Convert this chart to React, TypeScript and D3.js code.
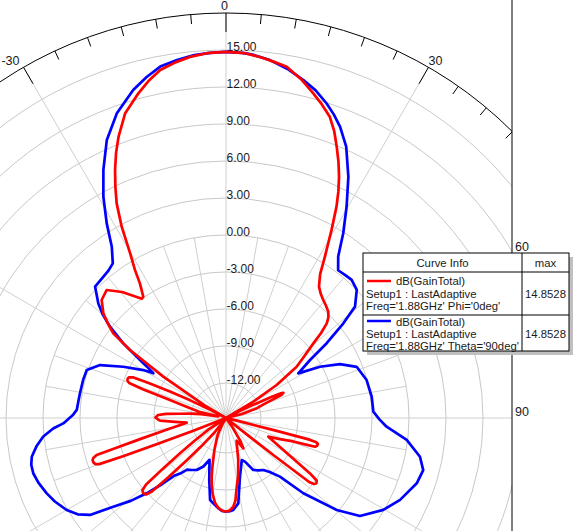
import React from 'react';
import * as d3 from 'd3';

const W = 578;
const H = 531;
const CX = 226;
const CY = 418;
const R = 405;
const BORDER_X = 512;
const DB_MIN = -14.84;
const DB_MAX = 18;

const ringValues = [-12, -9, -6, -3, 0, 3, 6, 9, 12, 15];
const angleLabels = [-30, 0, 30, 60, 90];

// Phi = 0deg cut (red)
const redAngles = [
  -180, -177.5, -175, -172.7, -170, -168, -166.3, -164.5, -163, -160, -156.5, -153.3, -149.5, -146,
  -141.3, -138.8, -137.1, -135.8, -134.8, -133.8, -132.3, -130.8, -129.8, -128.8, -127.5, -125.8, -123.3,
  -119, -114, -112, -111.3, -110.8, -110.4, -110.0, -109.4, -108.5, -107.5, -106.8, -106, -105.3, -103.8,
  -101.4, -96.8, -94.3, -92.3, -91.3, -89.6, -87.5, -86, -84.7, -83, -81, -78.5, -77, -74, -72.2, -70.9,
  -70.1, -69.3, -68.3, -67.3, -66.3, -65.6, -64.7, -63.8, -62.5, -61, -59.6, -56.6, -54.7, -53.1, -51.2,
  -49.5, -46.5, -43, -39.5, -35.2, -34.3, -33.4, -32.6, -31.6, -30.2, -28.6, -27, -25.5, -24.1, -22.5,
  -20.9, -18.3, -15.1, -12.8, -10.7, -8, -5.5, -3, 0, 3, 5.5, 7.7, 9.8, 12.5, 15.05, 17, 19, 20.7, 22.2,
  23.7, 25.1, 26.4, 27.6, 29.3, 31.5, 33.2, 35.3, 37.5, 39.5, 41.7, 43.9, 45.5, 46.8, 48.2, 49.5, 51.8,
  54, 56.9, 59.2, 60.8, 62.5, 64.4, 65.2, 65.7, 66.4, 67.3, 68.2, 70, 72.5, 76, 80, 100, 103.5, 104.2,
  104.5, 104.9, 105.8, 106.9, 107.9, 108.5, 109.2, 111.4, 113.8, 114.8, 118.3, 121.5, 123.4, 124.6, 125.8,
  126.9, 127.6, 128, 128.3, 129, 131, 142, 145.5, 148, 150.3, 152.5, 155, 158, 160.4, 163.7, 166, 168,
  171.1, 173.5, 175.3, 177.5, 180,
];
const redGain = [
  -7.24, -7.33, -7.55, -7.89, -8.6, -9.3, -9.94, -10.7, -11.3, -12.1, -12.9, -13.4, -14.3, -15.2,
  -13.2, -11.76, -10.14, -8.19, -6.41, -5.88, -5.77, -5.88, -6.41, -8.19, -10.14, -11.76, -13.2,
  -15.5, -16, -14.5, -12, -9, -6, -3.9, -3.6, -3.5, -3.5, -3.6, -3.93, -5.52, -7.66,
  -9.8, -11.63, -10.7, -9.49, -9.33, -9.12, -9.33, -9.97, -11.09, -11.92, -12.8, -14.2, -12.6, -11.4, -10.07, -7.7,
  -6.49, -6.3, -6.25, -6.3, -6.65, -7.95, -9.81, -11.6, -13.5, -16, -13.0, -8.75, -5.3, -3.41, -2.5,
  -1.76, -0.94, -0.65, -1.6, -3.0, -2.94, -2.4, -1.88, -0.76, 0.61, 2.83, 4.69, 6.0, 7.19, 8.45,
  9.58, 11.19, 12.43, 13.25, 13.88, 14.3, 14.6, 14.78, 14.85, 14.78, 14.55, 14.3, 14.07, 13.3, 12.42, 11.75, 11.0, 10.0, 8.92,
  7.85, 6.77, 5.65, 4.5, 2.65, 0.51, -0.9, -1.79, -2.2, -2.44, -2.65, -2.88, -3.2, -3.63, -4.5, -5.52, -6.8,
  -7.76, -9.94, -12.26, -15.5, -13.6, -12.1, -10.8, -10.0, -9.76, -9.95, -10.6, -11.6, -12.2, -13.5, -16, -16, -14, -11,
  -8, -7.3, -7.1, -7.12, -7.26, -8.09, -9.06, -10.14, -11.09, -10.91, -9.87, -8.28, -6.68, -5.91, -5.8,
  -5.92, -6.33, -9.97, -12.4, -14.5, -16, -16, -13.8, -12.6, -12.0, -12.5, -12.8, -12.5, -12.1, -11.3, -10.75, -10.1,
  -9.2, -8.1, -7.62, -7.35, -7.24,
];

// Theta = 90deg cut (blue)
const blueAngles = [
  -180, -177.5, -175, -169, -165, -161.5, -158.5, -155, -150.6, -146.6, -143, -140.5, -138.3, -136, -133.5, -131,
  -128.2, -125.5, -123, -120, -116, -112.8, -109, -106, -103.5, -101.3, -98.5, -95.8, -93.5, -91.9, -89,
  -86.9, -83, -80.4, -75, -71, -67.2, -63.5, -59.9, -58.4, -57, -56, -54, -51.8, -50, -48.1, -44.9, -41,
  -38.5, -36.2, -33.7, -31.5, -29, -26.3, -23.2, -19.7, -15.8, -13.1, -10.6, -7.8, -5, -2.5, 0, 2.5, 4, 7, 10, 12.9,
  15.3, 17.7, 19.5, 21.4, 23.9, 26.9, 29.7, 32.4, 34.8, 37.2, 40, 42.3, 45.6, 49.2, 51.1, 53.4, 55.4, 58.3, 61.4, 64.7,
  68.6, 74.9, 81.7, 87.5, 90.5, 93.1, 96.9, 101.3, 104.8, 108.9, 115.2, 120.3, 126.2, 129.7, 134.2, 137.4,
  141, 144.3, 148.2, 152.3, 156.5, 159.5, 163.4, 166.6, 171.8, 175.5, 177.5, 180,
];
const blueGain = [
  -7.24, -7.3, -7.5, -8.07, -9.6, -10.6, -11.2, -10.5, -10.0, -9.79, -9.6, -9.0, -8.6, -7.4, -5.97, -4.6,
  -3.21, -1.3, -0.5, 0.08, 0.6, 0.93, 1.25, 1.42, 1.4, 1.22, 0.7, 0.05, -0.8, -1.64, -2.4,
  -2.72, -2.8, -2.83, -2.85, -2.9, -3.76, -5.53, -7.09, -7.92, -7.2, -6.43, -4.54, -2.87, -1.8, -0.93, 0.2, 0.33,
  0.45, 0.7, 1.85, 3.67, 5.67, 7.6, 9.69, 11.41, 12.8, 13.55, 14.15, 14.45, 14.7, 14.8, 14.85, 14.8, 14.72, 14.4, 13.9, 13.27,
  12.7, 11.95, 11.3, 10.52, 9.22, 7.09, 4.9, 2.9, 1.1, 0.2, 0.25, 0.3, 0.0, -1.02, -2.61, -4.67, -6.56, -7.95, -6.16, -4.62,
  -3.46, -3.03, -2.9, -2.88, -2.4, -1.8, -0.08, 1.2, 1.7, 1.51, 0.76, -0.07, -1.38, -3.17, -6.09, -8.38,
  -9.2, -9.65, -9.85, -10.08, -10.98, -11.2, -10.6, -9.95, -7.85, -7.36, -7.28, -7.24,
];

const legendHeader = ['Curve Info', 'max'];
const legendNames = ['dB(GainTotal)', 'dB(GainTotal)'];
const legendSetups = ['Setup1 : LastAdaptive', 'Setup1 : LastAdaptive'];
const legendFreqs = ["Freq='1.88GHz' Phi='0deg'", "Freq='1.88GHz' Theta='90deg'"];
const legendMax = ['14.8528', '14.8528'];
const seriesColors = ['#ff0000', '#0000ff'];

const FONT = "'Liberation Sans', Arial, sans-serif";

const rScale = d3.scaleLinear().domain([DB_MIN, DB_MAX]).range([0, R]).clamp(true);

function polar(r: number, deg: number): [number, number] {
  const a = (deg * Math.PI) / 180;
  return [CX + r * Math.sin(a), CY - r * Math.cos(a)];
}

const radial = d3
  .lineRadial<[number, number]>()
  .angle((d) => (d[0] * Math.PI) / 180)
  .radius((d) => rScale(d[1]))
  .curve(d3.curveLinear);

export default function App() {
  const redPath = radial(redAngles.map((a, i) => [a, redGain[i]] as [number, number])) || '';
  const bluePath = radial(blueAngles.map((a, i) => [a, blueGain[i]] as [number, number])) || '';

  const spokes = d3.range(-180, 180, 10);
  const ticks = d3.range(-180, 180, 5);

  const lx = 363, ly = 253, lw = 206, lh = 98, colX = 522, headY = 272, rowY = 315;
  const rowOffsets = [
    { line: 9, name: 13, setup: 25.5, freq: 38 },
    { line: 6, name: 10.5, setup: 23, freq: 35 },
  ];

  return (
    <div style={{ position: 'fixed', left: 0, top: 0, width: W, height: H, background: '#fff' }}>
      <svg width={W} height={H} style={{ display: 'block' }} fontFamily={FONT}>
        <defs>
          <clipPath id="plotClip">
            <rect x={0} y={0} width={BORDER_X} height={H} />
          </clipPath>
        </defs>
        <rect x={0} y={0} width={W} height={H} fill="#fff" />
        <g clipPath="url(#plotClip)">
          {ringValues.map((v) => (
            <circle key={'ring' + v} cx={CX} cy={CY} r={rScale(v)} fill="none" stroke="#c8c8c8" strokeWidth={1} />
          ))}
          {spokes.map((a) => {
            const major = a % 30 === 0;
            const [x1, y1] = polar(0, a);
            const [x2, y2] = polar(major ? R : rScale(0), a);
            return <line key={'sp' + a} x1={x1} y1={y1} x2={x2} y2={y2} stroke="#cfcfcf" strokeWidth={1} />;
          })}
          <circle cx={CX} cy={CY} r={R} fill="none" stroke="#000" strokeWidth={1} />
          {ticks.map((a) => {
            const len = a % 30 === 0 ? 19 : 9.5;
            const [x1, y1] = polar(R, a);
            const [x2, y2] = polar(R - len, a);
            return <line key={'tk' + a} x1={x1} y1={y1} x2={x2} y2={y2} stroke="#000" strokeWidth={1} />;
          })}
          {ringValues.map((v) => (
            <text key={'rl' + v} x={CX + 0.5} y={CY - rScale(v) + 1} fontSize={12} fill="#1a1a1a">
              {v.toFixed(2)}
            </text>
          ))}
          <path d={bluePath} transform={`translate(${CX},${CY})`} fill="none" stroke="#0000ff" strokeWidth={2.7} strokeLinejoin="round" />
          <path d={redPath} transform={`translate(${CX},${CY})`} fill="none" stroke="#ff0000" strokeWidth={2.7} strokeLinejoin="round" />
        </g>
        <line x1={BORDER_X} y1={0} x2={BORDER_X} y2={H} stroke="#000" strokeWidth={1} />
        {angleLabels.map((a) => {
          let [x, y] = polar(R, a);
          const anchor: 'start' | 'middle' | 'end' = a > 0 ? 'start' : a < 0 ? 'end' : 'middle';
          if (x > BORDER_X) {
            const t = (BORDER_X - CX) / Math.sin((a * Math.PI) / 180);
            y = CY - t * Math.cos((a * Math.PI) / 180);
            x = BORDER_X + 3;
          } else if (a < 0) {
            x -= 4;
          } else if (a === 0) {
            x -= 1.5;
            y -= 1;
          }
          return (
            <text key={'al' + a} x={x} y={y - 2} fontSize={12.5} textAnchor={anchor} fill="#1a1a1a">
              {String(a)}
            </text>
          );
        })}
        {/* legend */}
        <rect x={lx + 4} y={ly + 4} width={lw} height={lh} fill="#c0c0c0" />
        <rect x={lx} y={ly} width={lw} height={lh} fill="#fff" stroke="#000" strokeWidth={1} />
        <line x1={colX} y1={ly} x2={colX} y2={ly + lh} stroke="#000" strokeWidth={1} />
        <line x1={lx} y1={headY} x2={lx + lw} y2={headY} stroke="#000" strokeWidth={1} />
        <line x1={lx} y1={rowY} x2={lx + lw} y2={rowY} stroke="#000" strokeWidth={1} />
        <text x={(lx + colX) / 2} y={267} fontSize={11.3} textAnchor="middle" fill="#1a1a1a">{legendHeader[0]}</text>
        <text x={(colX + lx + lw) / 2} y={267} fontSize={11.3} textAnchor="middle" fill="#1a1a1a">{legendHeader[1]}</text>
        {legendNames.map((n, i) => {
          const top = i === 0 ? headY : rowY;
          const o = rowOffsets[i];
          return (
            <g key={'lg' + i}>
              <line x1={367} x2={391} y1={top + o.line} y2={top + o.line} stroke={seriesColors[i]} strokeWidth={2.5} />
              <text x={396} y={top + o.name} fontSize={11.3} fill="#1a1a1a">{n}</text>
              <text x={366} y={top + o.setup} fontSize={11.3} fill="#1a1a1a">{legendSetups[i]}</text>
              <text x={366} y={top + o.freq} fontSize={11.3} fill="#1a1a1a">{legendFreqs[i]}</text>
              <text x={(colX + lx + lw) / 2} y={top + o.setup} fontSize={11.3} textAnchor="middle" fill="#1a1a1a">{legendMax[i]}</text>
            </g>
          );
        })}
      </svg>
    </div>
  );
}
